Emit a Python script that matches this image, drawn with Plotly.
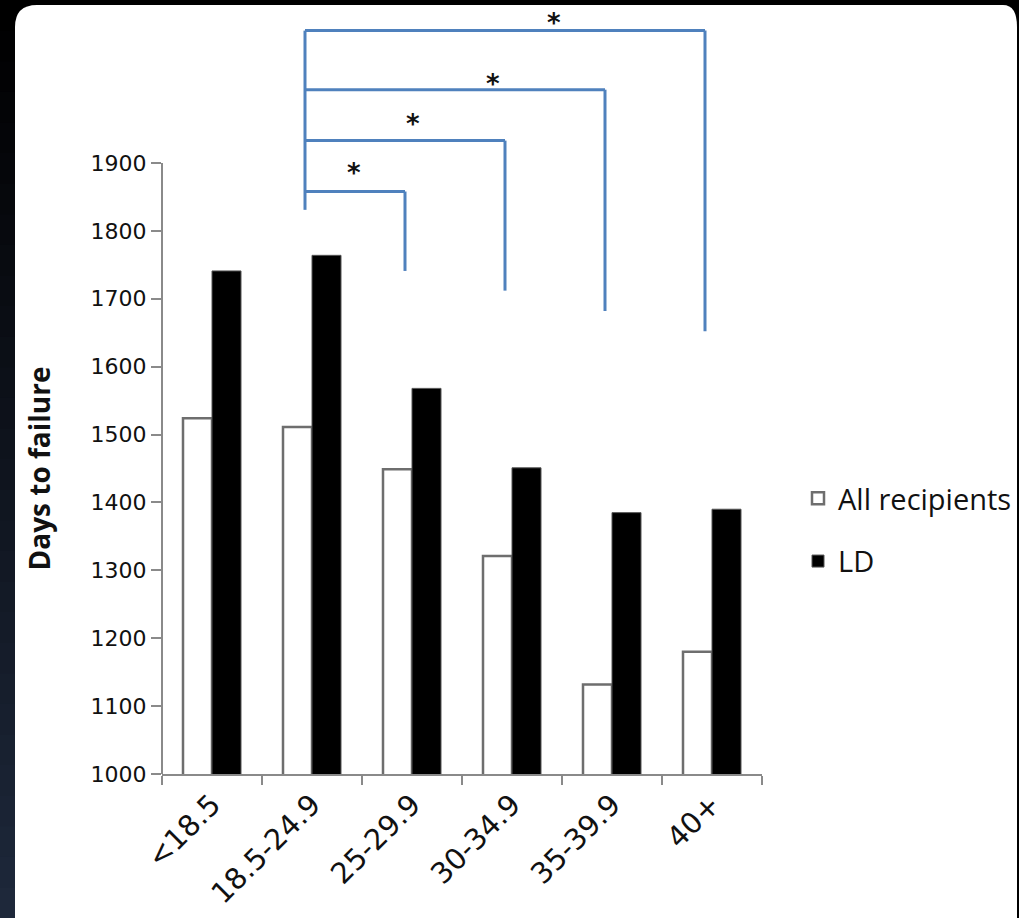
import plotly.graph_objects as go

# ---------------- data ----------------
categories = ["<18.5", "18.5-24.9", "25-29.9", "30-34.9", "35-39.9", "40+"]
all_recipients = [1524, 1511, 1449, 1321, 1132, 1180]
ld = [1741, 1764, 1568, 1451, 1385, 1390]
y_tick_values = [1000, 1100, 1200, 1300, 1400, 1500, 1600, 1700, 1800, 1900]

# significance brackets (reference group vs. each target group), in data units
bracket_ref = "18.5-24.9"
bracket_ref_bottom = 1831
bracket_targets = ["25-29.9", "30-34.9", "35-39.9", "40+"]
bracket_heights = [1858, 1933, 2008, 2095]
bracket_ends = [1741, 1712, 1682, 1652]
star_x = [1.42, 2.01, 2.81, 3.42]
star_y = [1897, 1969, 2028, 2118]

# ---------------- style ----------------
W, H = 1019, 918
ML, MR, MT, MB = 162, 257, 0, 144
PX_PER_UNIT = 611 / 900.0
Y_TOP = 1000 + (H - MT - MB) / PX_PER_UNIT
AXIS_GRAY = "#8a8a8a"
BRACKET_BLUE = "#4F81BD"
Y_TICK_FONT = dict(family="DejaVu Sans", size=22, color="#111111")
X_TICK_FONT = dict(family="DejaVu Sans", size=29, color="#111111")
X_OFF = -0.07

fig = go.Figure()
fig.add_trace(go.Bar(
    x=categories, y=all_recipients, name="All recipients",
    marker=dict(color="white", line=dict(color="#6e6e6e", width=2.5)),
    legendgroup="a",
))
fig.add_trace(go.Bar(
    x=categories, y=ld, name="LD",
    marker=dict(color="black", line=dict(color="#555555", width=1)),
    legendgroup="b",
))

shapes = []


def px_to_paper_x(px):
    return (px - ML) / (W - ML - MR)


def px_to_paper_y(py):
    return (H - MB - py) / (H - MT - MB)


# left dark strip gradient (black -> navy)
n_bands = 30
for i in range(n_bands):
    t = i / (n_bands - 1)
    r = int(30 * t)
    g = int(40 * t)
    b = int(58 * t)
    y0 = i * H / n_bands
    y1 = (i + 1) * H / n_bands + 1
    shapes.append(dict(
        type="rect", xref="paper", yref="paper", layer="below",
        x0=px_to_paper_x(-2), x1=px_to_paper_x(20),
        y0=px_to_paper_y(y0), y1=px_to_paper_y(y1),
        fillcolor=f"rgb({r},{g},{b})", line=dict(width=0),
    ))

# white rounded panel
xl = px_to_paper_x(15)
yt, yb = px_to_paper_y(5), px_to_paper_y(930)
rx = 22 / (W - ML - MR)
ry = 22 / (H - MT - MB)
rxr = 14 / (W - ML - MR)
xr2 = px_to_paper_x(1017)
path = (
    f"M {xl},{yb} L {xl},{yt - ry} Q {xl},{yt} {xl + rx},{yt} "
    f"L {xr2 - rxr},{yt} Q {xr2},{yt} {xr2},{yt - ry} L {xr2},{yb} Z"
)
shapes.append(dict(type="path", xref="paper", yref="paper", layer="below",
                   path=path, fillcolor="white", line=dict(width=0)))

# y axis line (only spanning the labelled range)
shapes.append(dict(type="line", xref="paper", yref="y", x0=0, x1=0,
                   y0=y_tick_values[0], y1=y_tick_values[-1],
                   line=dict(color=AXIS_GRAY, width=2)))

# brackets
ref_x = categories.index(bracket_ref) + X_OFF
top_h = max(bracket_heights)
shapes.append(dict(type="line", xref="x", yref="y", x0=ref_x, x1=ref_x,
                   y0=bracket_ref_bottom, y1=top_h,
                   line=dict(color=BRACKET_BLUE, width=3)))
for tgt, h, end in zip(bracket_targets, bracket_heights, bracket_ends):
    tx = categories.index(tgt) + X_OFF
    shapes.append(dict(type="line", xref="x", yref="y", x0=ref_x, x1=tx,
                       y0=h, y1=h, line=dict(color=BRACKET_BLUE, width=3)))
    shapes.append(dict(type="line", xref="x", yref="y", x0=tx, x1=tx,
                       y0=end, y1=h, line=dict(color=BRACKET_BLUE, width=3)))

annotations = []
for sx, sy in zip(star_x, star_y):
    annotations.append(dict(x=sx, y=sy, xref="x", yref="y", text="<b>*</b>",
                            showarrow=False, yshift=-8,
                            font=dict(family="DejaVu Sans", size=26, color="#111111")))

annotations.append(dict(
    x=px_to_paper_x(38), y=(y_tick_values[0] + y_tick_values[-1]) / 2,
    xref="paper", yref="y", xanchor="center", yanchor="middle",
    text="<b>Days to failure</b>", textangle=-90,
    showarrow=False, font=dict(family="Open Sans", size=28, color="#111111"),
))

fig.update_layout(
    width=W, height=H,
    margin=dict(l=ML, r=MR, t=MT, b=MB, pad=0),
    paper_bgcolor="black",
    plot_bgcolor="rgba(0,0,0,0)",
    barmode="group", bargap=0.42, bargroupgap=0,
    shapes=shapes, annotations=annotations,
    showlegend=True,
    legend=dict(
        x=px_to_paper_x(798), y=px_to_paper_y(473), xanchor="left", yanchor="top",
        bgcolor="rgba(0,0,0,0)", font=dict(family="Open Sans", size=29, color="#111111"),
        traceorder="grouped", tracegroupgap=22,
    ),
    xaxis=dict(
        type="category", range=[-0.5, 5.5],
        showline=True, linecolor=AXIS_GRAY, linewidth=2,
        ticks="outside", tickson="boundaries", ticklen=9, tickwidth=2, tickcolor=AXIS_GRAY,
        tickangle=-45, tickfont=X_TICK_FONT, showgrid=False, zeroline=False,
    ),
    yaxis=dict(
        range=[1000, Y_TOP], showline=False,
        tickmode="array", tickvals=y_tick_values,
        ticks="outside", ticklen=10, tickwidth=2, tickcolor=AXIS_GRAY,
        tickfont=Y_TICK_FONT, showgrid=False, zeroline=False,
    ),
)

fig.write_html("out.html")
